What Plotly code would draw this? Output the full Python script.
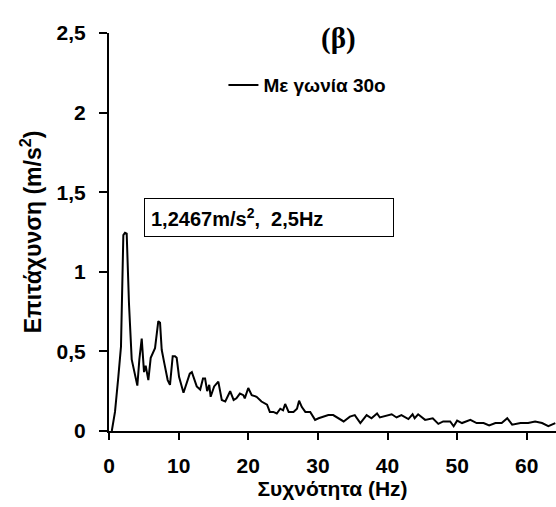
import plotly.graph_objects as go

freq = [0.4, 0.86, 1.34, 1.72, 2.06, 2.3, 2.54, 2.87, 3.26, 3.74, 4.07, 4.36, 4.7, 5.03, 5.27,
        5.65, 5.99, 6.61, 7.08, 7.33, 7.57, 7.95, 8.43, 8.76, 9.15, 9.48, 9.72, 10.06, 10.7,
        11.6, 11.9, 12.6, 13.1, 13.5, 13.8, 14.1, 14.4, 14.6, 15.1, 15.7, 16.2, 16.7, 17.4,
        17.9, 18.3, 18.8, 19.3, 19.5, 20.0, 20.5, 21.2, 21.9, 22.7, 23.1, 23.6, 24.1, 24.6,
        25.0, 25.3, 25.8, 26.5, 27.0, 27.3, 27.7, 28.2, 28.9, 29.6, 30.1, 30.8, 31.5, 32.2,
        33.7, 34.6, 35.3, 36.1, 37.0, 37.7, 38.5, 38.9, 39.9, 40.6, 41.3, 42.0, 43.0, 43.6,
        43.9, 44.4, 45.4, 46.5, 47.3, 48.0, 49.0, 49.5, 50.0, 50.7, 51.9, 52.8, 53.8, 54.6,
        55.5, 56.4, 57.2, 57.9, 59.1, 60.2, 61.2, 62.2, 63.1, 64.1]
accel = [0.0, 0.12, 0.34, 0.53, 1.23, 1.245, 1.24, 0.80, 0.45, 0.34, 0.285, 0.45, 0.58, 0.37, 0.41,
         0.32, 0.46, 0.52, 0.69, 0.68, 0.51, 0.425, 0.32, 0.29, 0.47, 0.47, 0.46, 0.34, 0.24,
         0.36, 0.37, 0.28, 0.26, 0.33, 0.33, 0.25, 0.29, 0.215, 0.28, 0.31, 0.195, 0.185, 0.25,
         0.195, 0.205, 0.235, 0.225, 0.205, 0.27, 0.225, 0.215, 0.185, 0.165, 0.12, 0.12, 0.11, 0.14,
         0.13, 0.17, 0.12, 0.12, 0.14, 0.19, 0.15, 0.12, 0.12, 0.07, 0.08, 0.09, 0.10, 0.10,
         0.06, 0.09, 0.10, 0.05, 0.10, 0.08, 0.11, 0.085, 0.095, 0.105, 0.085, 0.10, 0.075, 0.105,
         0.08, 0.105, 0.07, 0.08, 0.045, 0.06, 0.06, 0.03, 0.065, 0.05, 0.07, 0.05, 0.05, 0.035,
         0.05, 0.05, 0.08, 0.04, 0.05, 0.05, 0.06, 0.05, 0.03, 0.05]

x_ticks = [0, 10, 20, 30, 40, 50, 60]
x_tick_labels = ["0", "10", "20", "30", "40", "50", "60"]
y_ticks = [0, 0.5, 1, 1.5, 2, 2.5]
y_tick_labels = ["0", "0,5", "1", "1,5", "2", "2,5"]

series_name = "Με γωνία 30ο"
peak_label = "1,2467m/s<sup>2</sup>,  2,5Hz"

SANS = "Liberation Sans, Arial, sans-serif"
font_main = dict(family=SANS, color="black", size=20, weight="bold")

fig = go.Figure()
fig.add_trace(go.Scatter(x=freq, y=accel, mode="lines", name=series_name,
                         line=dict(color="black", width=2)))

fig.update_layout(
    width=556, height=507,
    margin=dict(l=109, r=0, t=33, b=76),
    paper_bgcolor="white", plot_bgcolor="white",
    font=font_main,
    showlegend=True,
    legend=dict(x=0.256, y=0.869, xanchor="left", yanchor="middle",
                bgcolor="rgba(0,0,0,0)",
                font=dict(size=19, weight="bold", color="black", family=SANS),
                itemwidth=30),
    xaxis=dict(range=[0, 64.2], tickvals=x_ticks, ticktext=x_tick_labels,
               showgrid=False, zeroline=False, showline=True, linecolor="black", linewidth=2,
               ticks="outside", ticklen=7, tickwidth=2, tickcolor="black",
               ticklabelstandoff=8,
               title=dict(text="Συχνότητα (Hz)", standoff=0,
                          font=dict(size=21, weight="bold", color="black", family=SANS)),
               tickfont=dict(size=21, weight="bold", family=SANS, color="black")),
    yaxis=dict(range=[0, 2.5], tickvals=y_ticks, ticktext=y_tick_labels,
               showgrid=False, zeroline=False, showline=True, linecolor="black", linewidth=2,
               ticks="outside", ticklen=8, tickwidth=2, tickcolor="black",
               ticklabelstandoff=9,
               title=dict(text="Επιτάχυνση (m/s<sup>2</sup>)", standoff=9,
                          font=dict(size=23, weight="bold", color="black", family=SANS)),
               tickfont=dict(size=21, weight="bold", family=SANS, color="black")),
    annotations=[
        dict(text="(β)", xref="paper", yref="paper", x=(338 - 109) / 447, y=(431 - 39) / 398,
             yanchor="middle", xanchor="center", showarrow=False,
             font=dict(family="Liberation Serif, Times New Roman, serif", size=29,
                       weight="bold", color="black")),
        dict(text=peak_label, xref="paper", yref="paper",
             x=(144 - 109) / 447, y=(431 - 218) / 398, xanchor="left", yanchor="middle",
             showarrow=False, bordercolor="black", borderwidth=1, borderpad=6,
             bgcolor="white", width=236, align="left",
             font=dict(size=20, weight="bold", color="black", family=SANS)),
    ],
)

fig.write_html("out.html", config={"displayModeBar": False},
               post_script="document.body.style.margin='0';")
